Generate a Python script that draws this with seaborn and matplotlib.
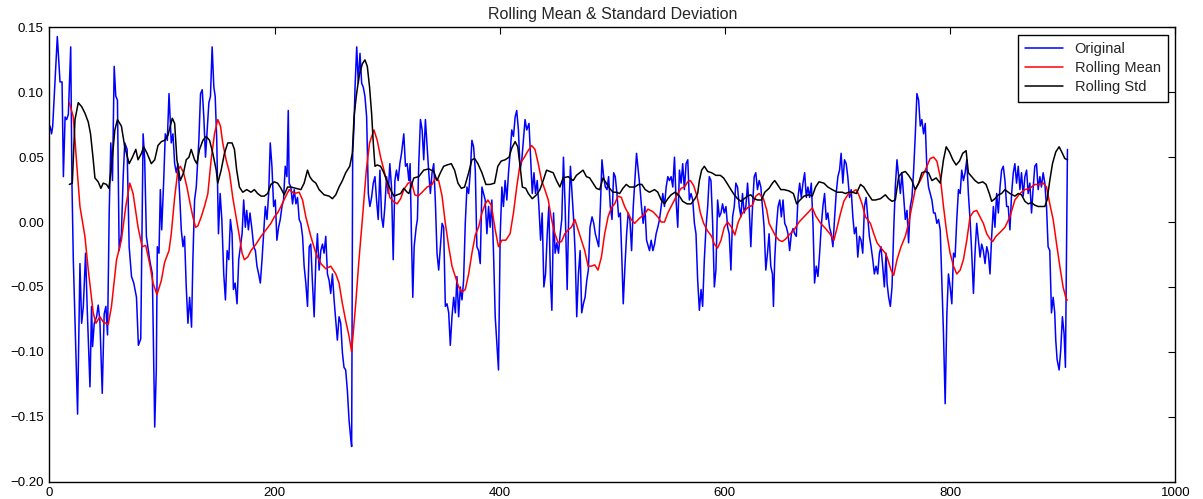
import pandas as pd
import seaborn as sns
import matplotlib.pyplot as plt

# values: (x, value)
original = [
    (0.6, 0.074), (2, 0.068), (3, 0.074), (7.1, 0.143), (9.5, 0.108), (11.3, 0.108), (12.5, 0.035),
    (14, 0.081), (15.4, 0.079), (16.9, 0.083), (19, 0.135), (20.1, 0.030), (21.3, -0.029),
    (25.1, -0.148), (27.2, -0.032), (28.7, -0.078), (30.2, -0.065), (32.2, -0.024), (33.7, -0.068),
    (36.1, -0.127), (37.5, -0.065), (38.4, -0.096), (39.9, -0.078), (42, -0.073), (43.4, -0.064),
    (44.9, -0.076), (47, -0.132), (48.7, -0.071), (50.2, -0.065), (51.7, -0.087), (53.2, 0.009),
    (54.6, 0.061), (56.1, 0.032), (57.6, 0.120), (59, 0.097), (60.5, 0.094), (62, -0.022),
    (64, -0.009), (65.6, 0.035), (67, 0.061), (69.1, 0.056), (70.9, -0.019), (73, -0.042),
    (75, -0.047), (77.4, -0.058), (79.1, -0.095), (81.2, -0.090), (83.3, 0.068), (84.7, 0.048),
    (86.2, -0.011), (89.1, -0.029), (91.5, -0.040), (93.6, -0.158), (95, -0.114), (95.9, -0.019),
    (97.4, -0.024), (98.6, 0.025), (99.8, -0.006), (101.5, 0.030), (103, 0.068), (104.8, 0.063),
    (106.3, 0.099),
    (108.3, 0.061), (109.8, 0.068), (111.3, 0.045), (112.8, 0.038), (114.2, 0.045), (115.7, 0.022),
    (117.2, -0.006), (118.7, -0.019), (120.1, -0.011), (121.6, -0.050), (123.1, -0.078),
    (124.6, -0.058), (126.3, -0.081), (127.5, -0.029), (129, 0.017), (130.5, 0.027), (132.8, 0.063),
    (134.3, 0.099), (135.8, 0.102), (137.2, 0.081), (138.7, 0.050), (140.2, 0.071), (141.7, 0.092),
    (143.1, 0.097), (144.6, 0.135), (146.1, 0.104), (147.3, 0.097), (148.7, 0.063), (150.2, -0.009),
    (151.7, 0.022), (153.2, 0.002), (154.9, -0.040), (156.4, -0.060), (157.9, -0.022),
    (159.4, -0.029), (160.8, 0.002), (162.3, -0.009), (163.5, -0.052), (165, -0.047),
    (166.7, -0.063), (168.2, -0.029), (169.7, -0.019), (171.2, -0.009), (172.6, 0.017),
    (174.1, -0.004), (175.3, 0.009), (176.8, -0.006), (178.2, 0.007), (180, -0.006),
    (181.5, -0.019), (183, -0.022), (184.4, -0.034), (185.9, -0.040), (187.4, -0.047),
    (188.9, -0.029), (190.3, -0.009), (191.8, 0.012), (193.3, 0.002), (194.8, 0.022),
    (196.2, 0.061), (197.7, 0.043), (199.2, 0.012), (200.7, 0.017), (202.1, -0.014),
    (203.6, -0.004), (205.1, 0.002), (206.6, 0.012), (208, 0.017), (209.5, 0.043), (211, 0.035),
    (212.2, 0.086),
    (213, 0.030), (214.5, 0.027), (216, 0.014), (217.5, 0.025), (219, 0.014), (220.4, 0.019),
    (221.9, 0.002), (223.4, -0.001), (224.9, -0.011), (226.3, -0.034), (227.8, -0.047),
    (229.3, -0.065), (230.8, -0.019), (232.2, -0.017), (233.7, -0.047), (235.2, -0.073),
    (236.7, -0.029), (238.1, -0.009), (239.6, -0.037), (241.1, -0.022), (242.6, -0.017),
    (244, -0.024), (245.5, -0.011), (247, -0.040), (248.5, -0.045), (249.9, -0.055),
    (251.4, -0.040), (252.9, -0.060), (254.4, -0.076), (255.8, -0.091), (257.3, -0.073),
    (258.8, -0.078), (260.3, -0.101), (261.7, -0.112), (263.2, -0.114), (264.7, -0.130),
    (266.2, -0.153), (267.6, -0.166), (268.5, -0.173), (269.4, 0.053), (270.6, 0.074),
    (271.5, 0.104), (273, 0.135), (274.4, 0.107), (275.9, 0.130), (277.4, 0.107), (278.8, 0.104),
    (280.3, 0.097), (281.8, 0.081), (283.3, 0.022), (284.7, 0.012), (286.2, 0.019), (287.7, 0.030),
    (289.2, 0.035), (290.6, 0.017), (292.1, 0.002), (293.6, 0.040), (295.1, 0.004),
    (296.5, -0.004), (298, 0.012), (299.5, 0.035), (301, 0.022), (302.4, 0.045), (303.9, 0.027),
    (305.4, -0.029), (306.9, 0.032), (308.3, 0.040), (309.8, 0.032), (311.3, 0.045),
    (312.8, 0.053), (314.8, 0.068), (316.3, 0.043), (317.8, 0.045), (319.3, 0.032),
    (320.4, 0.045), (321.6, -0.011), (322.8, -0.058), (324, -0.019), (325.8, -0.004),
    (326.9, 0.002), (328.1, 0.045), (329.6, 0.079), (331.1, 0.071), (332.5, 0.048), (334, 0.079),
    (335.5, 0.058), (337, 0.038), (338.4, 0.022), (339.9, 0.038), (341.4, 0.045), (342.9, 0.014),
    (344.3, -0.024), (345.8, -0.037), (347.3, -0.019), (348.8, -0.001), (350.2, -0.004),
    (351.7, -0.065), (353.2, -0.063), (354.7, -0.070), (356.1, -0.095), (357.6, -0.073),
    (359.1, -0.058), (360.6, -0.070), (362, -0.042), (363.5, -0.073), (365, -0.050),
    (366.5, -0.060), (367.9, -0.045), (369.4, -0.001), (370.9, 0.027), (372.4, 0.022),
    (373.8, 0.038), (375.3, 0.063), (376.8, 0.058), (378.3, 0.040), (379.7, -0.019),
    (381.2, -0.022), (382.7, -0.032), (384.2, 0.027), (385.6, 0.022), (387.1, 0.017),
    (388.6, -0.009), (390.1, 0.012), (391.5, -0.004), (393, 0.017), (394.5, -0.024),
    (396, -0.073), (397.4, -0.093), (398.9, -0.114), (400.4, -0.011), (401.9, 0.027),
    (403.3, 0.012), (404.8, 0.032), (406.3, 0.017), (407.8, 0.038), (409.2, 0.053), (410.7, 0.071),
    (412.2, 0.066), (413.7, 0.081), (415.1, 0.086), (416.6, 0.071), (418.1, 0.040), (419.6, 0.048),
    (421, 0.063), (422.5, 0.079), (424, 0.071), (426, 0.076),
    (427.4, 0.050), (428.9, 0.022), (430.4, 0.038), (431.8, 0.022), (433.3, 0.032), (434.8, 0.012),
    (436.3, -0.014), (437.7, 0.007), (439.2, -0.050), (440.7, -0.040), (442.2, -0.009),
    (443.6, 0.012), (445.1, -0.045), (446.3, -0.068), (447.8, 0.007), (449.2, -0.024),
    (450.7, -0.016), (452.2, -0.024), (453.7, -0.009), (455.1, 0.002), (456.6, 0.050),
    (458.1, 0.012), (459.9, -0.052), (461.3, 0.007), (462.8, 0.043), (464, 0.025), (465.5, 0.004),
    (467, -0.024), (468.4, -0.073), (469.9, -0.040), (471.4, -0.022), (472.8, -0.070),
    (474.3, -0.063), (475.8, -0.058), (477.3, -0.045), (478.7, -0.037), (480.2, -0.004),
    (482, 0.004), (483.5, -0.001), (484.9, -0.009), (486.4, -0.014), (487.9, -0.019),
    (489.4, 0.012), (490.8, 0.048), (492.3, 0.035), (493.8, 0.027), (495.3, 0.025), (496.7, 0.035),
    (498.2, 0.012), (499.7, 0.002), (501.2, 0.038), (502.6, 0.035), (504.1, 0.022), (505.6, 0.004),
    (507.1, 0.007), (508.5, -0.029), (509.7, -0.063), (511.2, -0.034), (512.7, -0.009),
    (514.1, 0.007), (515.6, 0.002), (517.1, -0.022), (518.6, 0.012), (520, 0.032), (521.5, 0.053),
    (523, 0.040), (524.5, 0.027), (525.9, 0.012), (527.4, -0.001), (528.9, 0.012), (530.4, -0.014),
    (533, -0.022), (534.5, -0.014), (536, -0.022), (537.5, -0.017), (538.9, -0.009),
    (540.4, -0.004), (541.9, 0.002), (543.4, 0.012), (544.8, 0.022), (546.3, 0.012), (547.8, 0.027),
    (549.3, 0.035), (550.7, 0.032), (552.2, 0.035), (553.7, 0.027), (555.2, 0.050), (556.6, 0.017),
    (558.1, -0.004), (559.6, 0.040), (561.1, 0.030), (562.5, 0.045), (564, 0.025), (565.5, 0.045),
    (567, 0.048), (568.4, 0.017), (569.9, 0.022), (571.4, 0.017), (572.9, -0.001), (574.3, -0.009),
    (575.8, -0.045), (577.3, -0.068), (578.8, -0.052), (580.2, -0.065), (581.7, -0.029),
    (583.2, -0.004), (584.7, 0.012), (586.1, 0.035), (587.6, 0.032), (589.1, -0.001),
    (590.6, -0.050), (592, -0.037), (593.5, 0.017), (595, 0.004), (596.5, 0.007), (597.9, 0.014),
    (599.4, 0.007), (600.9, 0.012), (602.4, -0.004), (603.8, -0.009), (605.3, -0.037),
    (606.8, 0.004), (608.3, 0.012), (609.7, 0.030), (611.2, 0.027), (612.7, 0.012), (614.2, 0.004),
    (615.6, 0.022), (617.1, 0.007), (618.6, 0.012), (620.1, 0.030), (621.5, 0.012), (623, -0.019),
    (624.5, 0.012), (626, 0.035), (627.4, 0.038), (628.9, 0.025), (630.4, 0.032), (631.9, 0.027),
    (633.3, 0.012), (634.8, -0.004), (636.3, -0.037), (637.8, -0.024),
    (639.2, -0.009), (640.7, -0.034), (642.2, -0.040), (643.1, -0.065), (644.2, -0.029),
    (645.7, -0.004), (647.2, 0.012), (648.7, 0.017), (650.1, 0.004), (651.6, 0.017),
    (653.1, -0.001), (654.6, -0.004), (656, -0.009), (657.5, -0.022), (659, -0.009),
    (660.5, -0.005), (661.9, -0.009), (663.4, -0.011), (664.9, 0.019), (666.4, 0.030),
    (667.8, 0.019), (669.3, 0.030), (670.8, 0.038), (672.3, 0.019), (673.7, 0.027), (675.2, 0.019),
    (676.7, 0.030), (678.2, -0.001), (679.6, -0.047), (681.1, -0.034), (682.6, -0.042),
    (684.1, -0.024), (685.5, -0.004), (687, 0.012), (688.5, 0.022), (690, 0.002), (691.4, 0.007),
    (692.9, -0.004), (694.4, -0.009), (695.9, -0.019), (697.3, 0.002), (698.8, 0.022),
    (700.3, 0.035), (701.8, 0.040), (703.2, 0.053), (704.7, 0.030), (706.2, 0.048), (707.7, 0.045),
    (709.1, 0.035), (710.6, 0.019), (712.1, 0.025), (713.6, 0.004), (715, -0.009), (716.5, -0.004),
    (718, -0.027), (719.5, -0.011), (720.9, -0.014), (722.4, -0.024), (723.9, 0.012),
    (725.4, 0.019), (726.8, 0.004), (728.3, -0.011), (729.8, -0.019), (731.3, -0.029),
    (732.7, -0.040), (734.2, -0.034), (735.7, -0.040), (737.2, -0.024), (738.6, -0.019),
    (740.1, -0.034), (741.6, -0.050), (743.1, -0.024),
    (744, -0.047), (745.4, -0.058), (746.9, -0.065), (748.4, -0.050), (749.9, -0.006),
    (751.3, 0.027), (752.8, 0.048), (754.3, 0.035), (755.8, 0.022), (757.2, 0.038), (758.7, 0.020),
    (760.2, 0.002), (761.7, 0.009), (763.1, -0.016), (764.6, 0.012), (766.1, 0.019), (767.6, 0.040),
    (769, 0.066), (770.5, 0.099), (772, 0.094), (773.5, 0.074), (774.9, 0.079), (776.4, 0.068),
    (777.9, 0.076), (779.4, 0.040), (780.8, 0.027), (782.3, 0.022), (783.8, 0.017), (785.3, 0.007),
    (786.7, 0.007), (788.2, -0.001), (789.7, 0.002), (791.2, -0.006), (792.6, -0.045),
    (794.1, -0.086), (795.6, -0.140), (797.1, -0.071), (798.5, -0.040), (800, -0.050),
    (801.5, -0.063), (803, -0.024), (804.4, -0.027), (805.9, 0.002), (807.4, 0.025), (808.9, 0.022),
    (810.3, 0.040), (811.8, 0.032), (813.3, 0.038), (814.8, 0.048), (816.2, 0.022), (817.7, 0.002),
    (819.2, -0.024), (820.7, -0.055), (822.1, -0.024), (823.6, -0.001), (825.1, -0.014),
    (826.6, -0.027), (828, -0.017), (829.5, -0.022), (831, -0.032), (832.5, -0.019),
    (833.9, -0.024), (835.4, -0.040), (836.9, -0.011), (838.4, 0.012), (839.8, -0.004),
    (841.3, 0.022), (842.8, 0.007), (844.3, 0.027), (845.7, 0.040), (847.2, 0.043), (848.7, 0.032),
    (850.2, 0.012), (851.6, 0.012), (853.1, -0.006), (854.6, 0.022), (856.1, 0.038), (857.5, 0.045),
    (859, 0.030), (860.5, 0.043), (862, 0.025), (863.4, 0.038), (864.9, 0.020), (866.4, 0.035),
    (867.9, 0.040), (869.3, 0.022), (870.8, 0.030), (872.3, 0.007), (873.8, 0.027), (875.2, 0.043),
    (876.7, 0.045), (878.2, 0.025), (879.7, 0.035), (881.1, 0.027), (882.6, 0.038), (884.1, 0.030),
    (885.6, 0.012), (887, -0.019), (888.5, -0.022), (890, -0.070), (891.5, -0.058),
    (892.9, -0.070), (893.8, -0.091), (895, -0.106), (896.8, -0.114), (898.2, -0.099),
    (899.7, -0.073), (901.2, -0.086), (902.4, -0.112), (903.3, -0.024), (904.2, 0.056),
]

rolling_mean = [
    (17.8, 0.092), (21.3, 0.081), (24.3, 0.045), (27.2, 0.012), (31.6, -0.011), (34.6, -0.037),
    (39, -0.070), (41.4, -0.078), (44.9, -0.073), (47.9, -0.077), (52.3, -0.079), (55.2, -0.065),
    (59.7, -0.029), (64, -0.014), (67.9, 0.012), (71.5, 0.030), (74.4, 0.022), (78.8, -0.004),
    (82.4, -0.019), (85.6, -0.018), (89.1, -0.032), (92.1, -0.047), (95.6, -0.056), (99.5, -0.045),
    (102.4, -0.031), (106.3, -0.022), (108.3, -0.009), (111.3, 0.019), (114.2, 0.040),
    (116.3, 0.043), (119.2, 0.038), (122.2, 0.027), (125.1, 0.014), (127.5, 0.004), (129.9, -0.004),
    (131.9, -0.003), (134.9, 0.004), (137.8, 0.012), (140.8, 0.022), (143.7, 0.048), (146.7, 0.068),
    (149.6, 0.079), (152, 0.074), (154, 0.061), (157, 0.048), (160, 0.038), (162.9, 0.019),
    (165.9, 0.004), (168.8, -0.011), (171.2, -0.024), (173.2, -0.029), (176.2, -0.027),
    (179.1, -0.022), (183.6, -0.017), (188, -0.011), (192.4, -0.006), (196.8, -0.001),
    (199.8, 0.004), (202.7, 0.007), (205.7, 0.012), (209.5, 0.019), (213, 0.025), (217.5, 0.022),
    (221.9, 0.023), (224.9, 0.017), (227.8, 0.004), (232.2, -0.011), (236.7, -0.024),
    (241.1, -0.032), (245.5, -0.036), (249.9, -0.034), (254.4, -0.040), (257.3, -0.047),
    (260.3, -0.063), (263.2, -0.076), (266.2, -0.088), (268.5, -0.100), (272.1, -0.063),
    (275, -0.029), (278, 0.002), (281.5, 0.040), (284.4, 0.061), (288.3, 0.071), (291.2, 0.063),
    (294.2, 0.050), (297.1, 0.040), (300.1, 0.030), (302.4, 0.019), (305.4, 0.016), (308.9, 0.014),
    (312, 0.018), (314.8, 0.025), (318.7, 0.030), (321.6, 0.031), (324.6, 0.021), (327.5, 0.020),
    (331.1, 0.023), (335.5, 0.027), (339.9, 0.029), (342.9, 0.034), (345.8, 0.032), (348.8, 0.020),
    (351.7, -0.001), (354.7, -0.019), (357.6, -0.034), (360.6, -0.042), (363.5, -0.050),
    (366.5, -0.054), (369.4, -0.052), (372.4, -0.040), (375.3, -0.024), (378.3, -0.010),
    (381.2, -0.004), (384.2, 0.007), (387.1, 0.014), (389.5, 0.017), (392.5, 0.013),
    (396, -0.006), (398.9, -0.019), (401.9, -0.014), (405.4, -0.014), (409.2, -0.009),
    (412.2, 0.007), (415.1, 0.027), (418.1, 0.045), (421.9, 0.050), (424.5, 0.054), (428.3, 0.059),
    (431.3, 0.056), (434.2, 0.045), (437.2, 0.032), (440.1, 0.025), (443.1, 0.017), (446, 0.002),
    (449, -0.009), (451.9, -0.016), (454.9, -0.015), (457.8, -0.009), (460.8, -0.006),
    (463.7, -0.004), (466.7, 0.002), (469.6, -0.006), (472.6, -0.014), (475.5, -0.022),
    (478.5, -0.034), (481.4, -0.034), (484.4, -0.033), (487.3, -0.037), (490.3, -0.027),
    (493.2, -0.009), (496.2, 0.004), (499.1, 0.011), (502.1, 0.014), (505, 0.020), (508, 0.019),
    (510.9, 0.012), (513.9, 0.007), (516.8, 0.002), (519.8, -0.001), (524.2, 0.003), (528.6, 0.006),
    (531.6, 0.010), (536, 0.008), (540.4, 0.004), (543.4, 0.000), (546.3, 0.000), (549.3, 0.007),
    (552.2, 0.012), (555.2, 0.017), (558.1, 0.022), (561.1, 0.026), (564, 0.027), (567, 0.031),
    (569.3, 0.032), (572.3, 0.028), (575.2, 0.020), (578.2, 0.007), (581.1, -0.001),
    (584.7, -0.007), (588.2, -0.011), (590.6, -0.017), (593.5, -0.020), (596.5, -0.014),
    (599.4, -0.004), (602.4, 0.000), (605.9, -0.004), (608.8, -0.010), (611.8, 0.000),
    (615.6, 0.007), (620.1, 0.011), (624.5, 0.013), (627.4, 0.020), (630.4, 0.022), (634.2, 0.018),
    (637.2, 0.009), (639.2, -0.001), (642.2, -0.006), (645.1, -0.011), (648.1, -0.014),
    (651, -0.015), (654, -0.013), (656.9, -0.010), (661.4, -0.006), (665.8, 0.000), (670.2, 0.004),
    (674.6, 0.008), (677.6, 0.011), (680.5, 0.005), (685, -0.001), (689.4, -0.005), (693.2, -0.009),
    (696.8, -0.014), (699.7, -0.004), (702.7, 0.007), (705.6, 0.016), (709.1, 0.021), (713, 0.023),
    (716.5, 0.025), (718.9, 0.021), (721.8, 0.014), (724.8, 0.004), (729.2, -0.001),
    (732.2, -0.009), (735.1, -0.016), (738.6, -0.020), (742.5, -0.024), (744, -0.027),
    (747.5, -0.037), (749.9, -0.041), (752.8, -0.029), (756.4, -0.019), (760.2, -0.011),
    (763.1, -0.001), (766.1, 0.012), (769, 0.025), (773.5, 0.032), (777.9, 0.040), (782.3, 0.049),
    (785.3, 0.050), (788.2, 0.047), (791.2, 0.035), (794.1, 0.012), (797.1, -0.009), (800, -0.024),
    (803, -0.034), (805.9, -0.040), (808.9, -0.037), (811.8, -0.029), (814.8, -0.014),
    (817.7, 0.004), (820.7, 0.008), (823.6, 0.009), (826.6, 0.004), (829.5, -0.001),
    (832.5, -0.009), (835.4, -0.013), (837.8, -0.015), (840.7, -0.011), (844.3, -0.008),
    (848.7, -0.004), (853.1, 0.004), (857.5, 0.017), (862, 0.022), (866.4, 0.025), (870.8, 0.026),
    (875.2, 0.029), (879.7, 0.029), (882.6, 0.030), (885.6, 0.027), (888.5, 0.014), (891.5, 0.002),
    (894.4, -0.016), (897.4, -0.034), (900.3, -0.050), (903.3, -0.060), (904.2, -0.060),
]

rolling_std = [
    (17.8, 0.029), (20.4, 0.030), (22.8, 0.079), (25.7, 0.092), (28.7, 0.089), (31.6, 0.084),
    (34.6, 0.077), (36.6, 0.068), (39, 0.048), (40.5, 0.034), (43.4, 0.031), (45.8, 0.026),
    (47.9, 0.030), (50.8, 0.029), (52.9, 0.026), (55.2, 0.043), (58.2, 0.071), (60.5, 0.079),
    (64, 0.074), (67, 0.058), (70.9, 0.045), (73.8, 0.050), (76.8, 0.056), (78.8, 0.048),
    (81.8, 0.053), (83.8, 0.058), (86.8, 0.053), (90.6, 0.045), (93.6, 0.048), (96.5, 0.059),
    (99.5, 0.062), (102.4, 0.063), (105.4, 0.067), (109.2, 0.080), (111.3, 0.076), (113.3, 0.048),
    (116.3, 0.032), (119.2, 0.038), (121.6, 0.048), (124, 0.050), (126, 0.056), (129, 0.048),
    (131, 0.045), (133.4, 0.056), (136.4, 0.063), (139.3, 0.066), (142.3, 0.063), (145.2, 0.053),
    (148.2, 0.040), (149.6, 0.030), (152.6, 0.040), (155.5, 0.053), (158.5, 0.061), (162.3, 0.061),
    (164.4, 0.056), (166.4, 0.040), (168.8, 0.027), (171.8, 0.023), (175.3, 0.025), (179.1, 0.023),
    (182.1, 0.025), (185, 0.022), (188, 0.020), (190.9, 0.020), (193.9, 0.022), (196.8, 0.029),
    (199.8, 0.031), (202.7, 0.030), (205.7, 0.026), (208.6, 0.021), (211.6, 0.027), (214.5, 0.027),
    (219, 0.026), (223.4, 0.025), (226.3, 0.030), (229.3, 0.040), (231.3, 0.035), (233.7, 0.032),
    (236.7, 0.030), (239.6, 0.025), (244, 0.021), (248.5, 0.020), (251.4, 0.018), (254.4, 0.021),
    (257.3, 0.027), (260.3, 0.032), (263.2, 0.038), (266.8, 0.043), (269.1, 0.053), (270.6, 0.081),
    (272.6, 0.097), (275, 0.112), (278, 0.122), (280.3, 0.125), (282.4, 0.120), (284.4, 0.104),
    (286.2, 0.084), (287.7, 0.061), (289.2, 0.043), (291.2, 0.044), (294.2, 0.043), (297.1, 0.038),
    (300.1, 0.031), (303, 0.025), (306, 0.020), (308.9, 0.021), (312, 0.022), (314.8, 0.026),
    (317.8, 0.023), (319.3, 0.022), (323.7, 0.034), (328.1, 0.035), (332.5, 0.040), (337, 0.041),
    (341.4, 0.039), (344.3, 0.032), (347.3, 0.038), (350.2, 0.043), (353.2, 0.044), (357, 0.045),
    (359.9, 0.040), (362.9, 0.030), (365.9, 0.026), (368.8, 0.027), (372.4, 0.038), (375.3, 0.048),
    (377.7, 0.049), (380.6, 0.045), (384.2, 0.038), (387.7, 0.029), (391.5, 0.029), (395.4, 0.030),
    (398.3, 0.043), (401.3, 0.047), (404.8, 0.048), (408.3, 0.050), (410.7, 0.057), (413.7, 0.062),
    (416, 0.058), (418.1, 0.043), (420.1, 0.027), (423.1, 0.026), (425.4, 0.022), (428.9, 0.018),
    (432.7, 0.021), (435.7, 0.025), (438.6, 0.032), (441.6, 0.040), (444.5, 0.039), (447.5, 0.038),
    (450.4, 0.032), (453.4, 0.027), (456.3, 0.034), (460.8, 0.035), (465.2, 0.032), (468.1, 0.036),
    (471.1, 0.038), (474, 0.040), (477, 0.035), (479.9, 0.034), (482.9, 0.030), (485.8, 0.026),
    (488.8, 0.025), (491.7, 0.034), (494.7, 0.030), (497.6, 0.026), (500.6, 0.023), (503.5, 0.023),
    (506.5, 0.022), (509.4, 0.026), (512.4, 0.029), (515.3, 0.027), (519.8, 0.027), (523.3, 0.029),
    (526.2, 0.029), (529.2, 0.025), (533, 0.023), (537.5, 0.025), (540.4, 0.023), (543.4, 0.017),
    (546.3, 0.014), (549.3, 0.018), (552.2, 0.021), (555.7, 0.023), (559.6, 0.020), (562.5, 0.016),
    (566.4, 0.014), (569.9, 0.014), (573.4, 0.018), (575.8, 0.022), (577.3, 0.032), (579.3, 0.040),
    (581.7, 0.043), (584.7, 0.039), (588.2, 0.038), (592, 0.036), (595.9, 0.036), (598.8, 0.034),
    (601.8, 0.030), (605.3, 0.025), (608.3, 0.021), (611.2, 0.018), (614.2, 0.016), (617.1, 0.018),
    (620.1, 0.020), (623, 0.021), (626, 0.018), (628.9, 0.017), (632.4, 0.017), (635.4, 0.023),
    (639.2, 0.026), (642.2, 0.030), (644.2, 0.032), (646.6, 0.029), (649.6, 0.025), (652.5, 0.025),
    (656.9, 0.024), (660.8, 0.022), (663.7, 0.014), (666.7, 0.017), (670.2, 0.020), (674.6, 0.021),
    (677.6, 0.020), (680.5, 0.027), (683.5, 0.031), (687.9, 0.030), (691.4, 0.027), (695.3, 0.025),
    (699.7, 0.023), (704.1, 0.023), (707.1, 0.022), (710, 0.023), (713, 0.023), (716.8, 0.022),
    (720.4, 0.029), (723.3, 0.027), (726.8, 0.022), (730.7, 0.017), (733.6, 0.017), (738.1, 0.018),
    (742.5, 0.021), (745.4, 0.018), (748.4, 0.016), (751.3, 0.017), (754.3, 0.035), (757.2, 0.038),
    (760.2, 0.039), (763.1, 0.036), (766.1, 0.032), (769, 0.025), (772, 0.030), (774.9, 0.038),
    (777.9, 0.039), (780.8, 0.038), (783.8, 0.032), (787.6, 0.034), (791.2, 0.030), (794.1, 0.048),
    (796.5, 0.058), (799.4, 0.054), (802.4, 0.048), (805.3, 0.044), (808.3, 0.047), (811.2, 0.053),
    (814.2, 0.055), (816.2, 0.038), (819.2, 0.035), (822.1, 0.032), (825.1, 0.030), (829, 0.031),
    (831.9, 0.029), (834.8, 0.022), (836.9, 0.016), (839.8, 0.018), (842.8, 0.021), (845.7, 0.022),
    (848.7, 0.025), (853.1, 0.022), (857.5, 0.020), (860.5, 0.022), (863.4, 0.021), (866.4, 0.016),
    (869.3, 0.014), (872.3, 0.015), (875.2, 0.013), (878.2, 0.012), (881.1, 0.012), (884.1, 0.012),
    (886.1, 0.017), (888.5, 0.032), (890.9, 0.045), (893.8, 0.054), (896.8, 0.058), (899.7, 0.053),
    (901.8, 0.049), (904.2, 0.048),
]

x_ticks = [0, 200, 400, 600, 800, 1000]
y_ticks = [-0.20, -0.15, -0.10, -0.05, 0.00, 0.05, 0.10, 0.15]

sns.set_style("white")
plt.rcParams['font.family'] = ['Liberation Sans', 'DejaVu Sans']
plt.rcParams['xtick.direction'] = 'in'
plt.rcParams['ytick.direction'] = 'in'

orig_df = pd.DataFrame(original, columns=['x', 'value'])
mean_df = pd.DataFrame(rolling_mean, columns=['x', 'value'])
std_df = pd.DataFrame(rolling_std, columns=['x', 'value'])

fig = plt.figure(figsize=(12.03, 4.99), dpi=100)
ax = fig.add_axes([0.041, 0.035, 0.936, 0.910])

sns.lineplot(data=orig_df, x='x', y='value', color='blue', lw=1.1, label='Original',
             estimator=None, sort=False, ax=ax)
sns.lineplot(data=mean_df, x='x', y='value', color='red', lw=1.1, label='Rolling Mean',
             estimator=None, sort=False, ax=ax)
sns.lineplot(data=std_df, x='x', y='value', color='black', lw=1.1, label='Rolling Std',
             estimator=None, sort=False, ax=ax)

ax.set_xlim(0, 1000)
ax.set_ylim(-0.20, 0.15)
ax.set_xticks(x_ticks)
ax.set_yticks(y_ticks)
ax.set_yticklabels([f"{v:.2f}".replace('-', '\u2212') for v in y_ticks])
ax.set_xlabel('')
ax.set_ylabel('')
ax.tick_params(axis='both', which='major', labelsize=9.5, length=5, width=0.8,
               top=True, right=True, colors='black', pad=4)
for side in ax.spines.values():
    side.set_visible(True)
    side.set_color('black')
    side.set_linewidth(1.0)
ax.set_title('Rolling Mean & Standard Deviation', fontsize=11.5, pad=6)

leg = ax.legend(loc='upper right', fontsize=10.5, frameon=True, fancybox=False,
                framealpha=1, edgecolor='black', handlelength=2.6, borderpad=0.5,
                labelspacing=0.35)
leg.get_frame().set_linewidth(1.0)

fig.savefig('out.png', dpi=100)
